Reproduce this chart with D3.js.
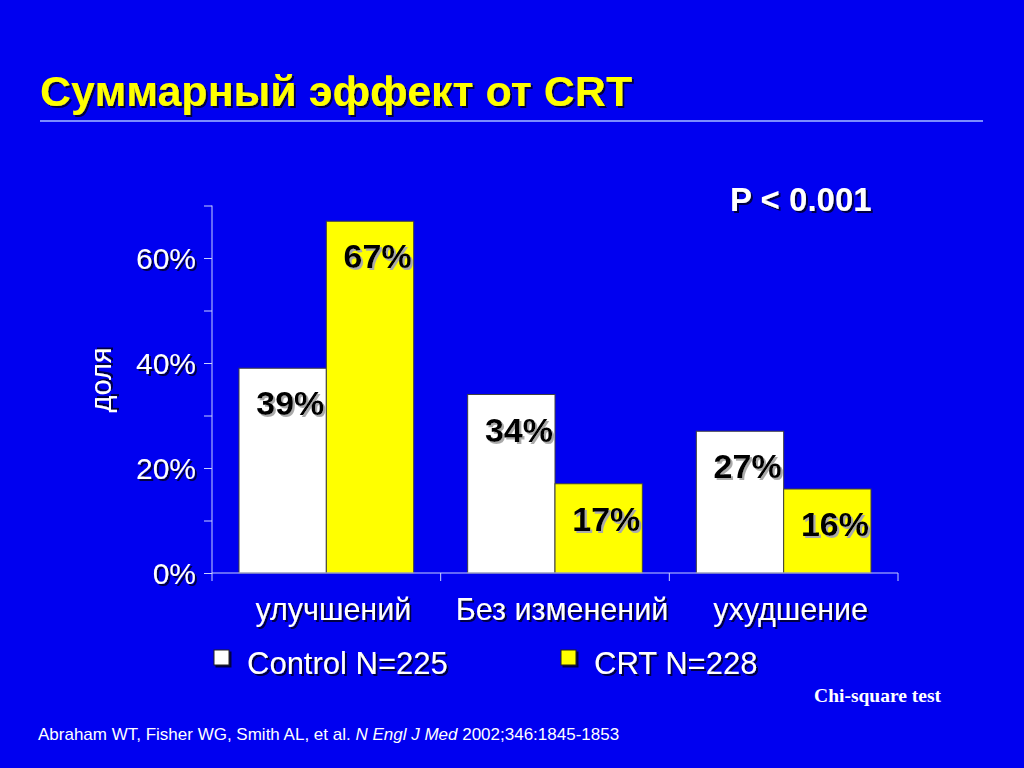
<!DOCTYPE html>
<html>
<head>
<meta charset="utf-8">
<script src="https://cdn.jsdelivr.net/npm/d3@7"></script>
<style>
  body { margin: 0; background: #0000f0; }
  text { font-family: "Liberation Sans", Arial, sans-serif; }
</style>
</head>
<body>
<script>
var width = 1024, height = 768;

// data
var categories = ["улучшений", "Без изменений", "ухудшение"];
var series = ["Control N=225", "CRT N=228"];
var control = [39, 34, 27];
var crt = [67, 17, 16];
var yTicks = [0, 20, 40, 60];
var colors = ["#ffffff", "#ffff00"];

var svg = d3.select("body").append("svg")
    .attr("width", width)
    .attr("height", height);

svg.append("rect").attr("width", width).attr("height", height).attr("fill", "#0000f0");

// shadows
var defs = svg.append("defs");
defs.append("filter").attr("id", "dark").attr("x", "-10%").attr("y", "-20%").attr("width", "130%").attr("height", "150%")
  .append("feDropShadow").attr("dx", 2).attr("dy", 2).attr("stdDeviation", 0.6)
  .attr("flood-color", "#000030").attr("flood-opacity", 0.9);
defs.append("filter").attr("id", "light").attr("x", "-10%").attr("y", "-20%").attr("width", "130%").attr("height", "150%")
  .append("feDropShadow").attr("dx", 2).attr("dy", 2).attr("stdDeviation", 0.6)
  .attr("flood-color", "#aaaaaa").attr("flood-opacity", 1);

// title
svg.append("text")
    .attr("x", 40).attr("y", 106)
    .attr("fill", "#ffff00")
    .attr("font-size", 43).attr("font-weight", "bold")
    .attr("filter", "url(#dark)")
    .text("Суммарный эффект от CRT");

svg.append("line")
    .attr("x1", 40).attr("x2", 983).attr("y1", 121).attr("y2", 121)
    .attr("stroke", "#7b8cff").attr("stroke-width", 2);

// chart
var x = d3.scaleBand().domain(categories).range([212, 898]);
var xs = d3.scaleBand().domain(series).range([27, x.bandwidth() - 27]);
var y = d3.scaleLinear().domain([0, 70]).range([573, 205.5]);

var chart = svg.append("g");

var groups = chart.selectAll("g.grp")
    .data(categories)
    .enter().append("g")
    .attr("class", "grp")
    .attr("transform", function(d) { return "translate(" + x(d) + ",0)"; });

var bars = groups.selectAll("g.bar")
    .data(function(d, i) { return [{s: series[0], v: control[i], c: 0}, {s: series[1], v: crt[i], c: 1}]; })
    .enter().append("g").attr("class", "bar");

bars.append("rect")
    .attr("x", function(d) { return xs(d.s); })
    .attr("y", function(d) { return y(d.v); })
    .attr("width", xs.bandwidth())
    .attr("height", function(d) { return y(0) - y(d.v); })
    .attr("fill", function(d) { return colors[d.c]; })
    .attr("stroke", "#404040").attr("stroke-width", 1);

bars.append("text")
    .attr("x", function(d) { return xs(d.s) + xs.bandwidth() - 2; })
    .attr("y", function(d) { return y(d.v) + 47; })
    .attr("text-anchor", "end")
    .attr("font-size", 34).attr("font-weight", "bold")
    .attr("fill", "#000")
    .attr("filter", "url(#light)")
    .text(function(d) { return d.v + "%"; });

// y axis
var yAxis = d3.axisLeft(y).tickValues(d3.range(0, 71, 10)).tickSize(8).tickFormat("");
var ya = chart.append("g").attr("transform", "translate(212,0)").call(yAxis);
ya.select(".domain").attr("stroke", "#c8d0ff").attr("d", "M-0,205.5V573");
ya.selectAll(".tick line").attr("stroke", "#c8d0ff");

chart.selectAll("text.ytick")
    .data(yTicks)
    .enter().append("text")
    .attr("class", "ytick")
    .attr("x", 196).attr("y", function(d) { return y(d) + 11; })
    .attr("text-anchor", "end")
    .attr("font-size", 30).attr("fill", "#fff")
    .attr("filter", "url(#dark)")
    .text(function(d) { return d + "%"; });

// x axis
var xAxis = d3.axisBottom(x).tickSize(0).tickFormat("");
var xa = chart.append("g").attr("transform", "translate(0,573)").call(xAxis);
xa.select(".domain").attr("stroke", "#c8d0ff").attr("d", "M212,0H898");
xa.selectAll(".tick").remove();
xa.selectAll("line.sep")
    .data(categories.map(function(d) { return x(d); }).concat([x.range()[1]]))
    .enter().append("line").attr("class", "sep")
    .attr("x1", function(d) { return d; }).attr("x2", function(d) { return d; })
    .attr("y1", 0).attr("y2", 8)
    .attr("stroke", "#c8d0ff");

chart.selectAll("text.cat")
    .data(categories)
    .enter().append("text")
    .attr("class", "cat")
    .attr("x", function(d) { return x(d) + x.bandwidth() / 2 + 7; })
    .attr("y", 620)
    .attr("text-anchor", "middle")
    .attr("font-size", 30.5).attr("fill", "#fff")
    .attr("filter", "url(#dark)")
    .text(function(d) { return d; });

// y label
svg.append("text")
    .attr("transform", "translate(111,380) rotate(-90)")
    .attr("text-anchor", "middle")
    .attr("font-size", 29).attr("fill", "#fff")
    .attr("filter", "url(#dark)")
    .text("доля");

// p value
svg.append("text")
    .attr("x", 730).attr("y", 211)
    .attr("font-size", 33).attr("font-weight", "bold").attr("fill", "#fff")
    .attr("filter", "url(#dark)")
    .text("P < 0.001");

// legend
var legX = [214, 561];
var leg = svg.selectAll("g.leg")
    .data(series)
    .enter().append("g").attr("class", "leg")
    .attr("transform", function(d, i) { return "translate(" + legX[i] + ",650)"; });
leg.append("rect")
    .attr("width", 15).attr("height", 15)
    .attr("fill", function(d, i) { return colors[i]; })
    .attr("stroke", "#202020").attr("filter", "url(#dark)");
leg.append("text")
    .attr("x", 33).attr("y", 24)
    .attr("font-size", 31).attr("fill", "#fff")
    .attr("filter", "url(#dark)")
    .text(function(d) { return d; });

svg.append("text")
    .attr("x", 941).attr("y", 702)
    .attr("text-anchor", "end")
    .style("font-family", "'Liberation Serif', serif")
    .attr("font-size", 19.5).attr("font-weight", "bold").attr("fill", "#fff")
    .text("Chi-square test");

// reference
var ref = svg.append("text")
    .attr("x", 38).attr("y", 740)
    .attr("font-size", 17).attr("fill", "#fff");
ref.append("tspan").text("Abraham WT, Fisher WG, Smith AL, et al. ");
ref.append("tspan").attr("font-style", "italic").text("N Engl J Med");
ref.append("tspan").text(" 2002;346:1845-1853");
</script>
</body>
</html>
